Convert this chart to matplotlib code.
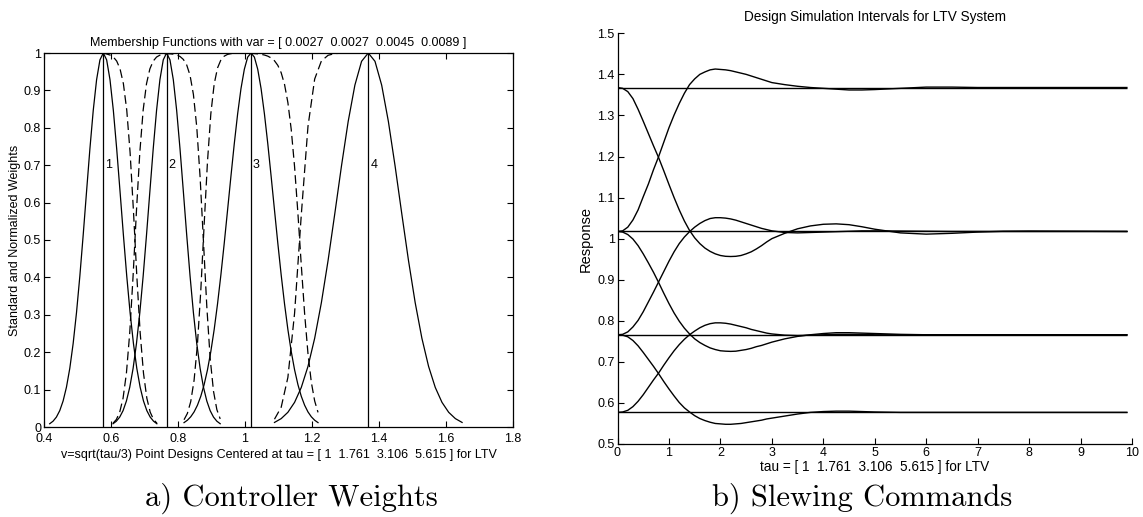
import numpy as np
import matplotlib.pyplot as plt
from matplotlib.ticker import FixedLocator, FixedFormatter

plt.rcParams['font.family'] = ['Liberation Sans', 'DejaVu Sans']

# ---------------- a) controller weights ----------------
v_centers = [0.577, 0.766, 1.018, 1.368]
v_names = ['1', '2', '3', '4']

# sample positions of each membership curve
v1 = np.linspace(0.417, 0.737, 33)
v2 = np.linspace(0.606, 0.926, 33)
v3 = np.linspace(0.818, 1.218, 41)
v4 = np.linspace(1.088, 1.648, 29)

# standard weights (solid)
w1 = [0.0087, 0.0155, 0.0265, 0.0437, 0.0695, 0.1064, 0.1569, 0.2231, 0.3057, 0.4036, 0.5134,
      0.6294, 0.7436, 0.8465, 0.9286, 0.9817, 1.0, 0.9817, 0.9286, 0.8465, 0.7436, 0.6294,
      0.5134, 0.4036, 0.3057, 0.2231, 0.1569, 0.1064, 0.0695, 0.0437, 0.0265, 0.0155, 0.0087]
w2 = [0.0087, 0.0155, 0.0265, 0.0437, 0.0695, 0.1064, 0.1569, 0.2231, 0.3057, 0.4036, 0.5134,
      0.6294, 0.7436, 0.8465, 0.9286, 0.9817, 1.0, 0.9817, 0.9286, 0.8465, 0.7436, 0.6294,
      0.5134, 0.4036, 0.3057, 0.2231, 0.1569, 0.1064, 0.0695, 0.0437, 0.0265, 0.0155, 0.0087]
w3 = [0.0117, 0.0181, 0.0273, 0.0403, 0.0582, 0.0821, 0.1133, 0.1529, 0.2019, 0.2607, 0.3292,
      0.4066, 0.4911, 0.5802, 0.6703, 0.7575, 0.8371, 0.9048, 0.9565, 0.9890, 1.0,
      0.9890, 0.9565, 0.9048, 0.8371, 0.7575, 0.6703, 0.5802, 0.4911, 0.4066, 0.3292,
      0.2607, 0.2019, 0.1529, 0.1133, 0.0821, 0.0582, 0.0403, 0.0273, 0.0181, 0.0117]
w4 = [0.0122, 0.0224, 0.0393, 0.0659, 0.1057, 0.1620, 0.2374, 0.3325, 0.4453, 0.5702, 0.6980,
      0.8169, 0.9140, 0.9778, 1.0, 0.9778, 0.9140, 0.8169, 0.6980, 0.5702, 0.4453, 0.3325,
      0.2374, 0.1620, 0.1057, 0.0659, 0.0393, 0.0224, 0.0122]

# normalized weights (dashed)
n1 = [1.0, 1.0, 1.0, 1.0, 1.0, 1.0, 1.0, 1.0, 1.0, 1.0, 1.0, 1.0, 1.0, 1.0, 1.0, 1.0, 1.0,
      0.9973, 0.9946, 0.9892, 0.9784, 0.9575, 0.9179, 0.8474, 0.7339, 0.5781, 0.4049,
      0.2526, 0.1437, 0.0769, 0.0397, 0.0201, 0.0101]
n2 = [0.0101, 0.0201, 0.0397, 0.0769, 0.1437, 0.2526, 0.4049, 0.5781, 0.7339, 0.8474, 0.9179,
      0.9575, 0.9784, 0.9892, 0.9943, 0.9970, 0.9978, 0.9978, 0.9969, 0.9948, 0.9907, 0.9828,
      0.9680, 0.9401, 0.8892, 0.8019, 0.6677, 0.4960, 0.3219, 0.1840, 0.0955, 0.0464, 0.0216]
n3 = [0.0194, 0.0363, 0.0679, 0.1249, 0.2210, 0.3644, 0.5402, 0.7095, 0.8375, 0.9170, 0.9600,
      0.9815, 0.9916, 0.9963, 0.9983, 0.9992, 0.9995, 0.9995, 0.9995, 0.9993, 0.9990, 0.9985,
      0.9977, 0.9965, 0.9946, 0.9916, 0.9868, 0.9792, 0.9669, 0.9472, 0.9160, 0.8675, 0.7955,
      0.6957, 0.5705, 0.4331, 0.3028, 0.1962, 0.1195, 0.0695, 0.0391]
n4 = [0.0208, 0.0528, 0.1325, 0.3043, 0.5669, 0.8038, 0.9305, 0.9786, 0.9939, 0.9984, 0.9996,
      1.0, 1.0, 1.0, 1.0, 1.0, 1.0, 1.0, 1.0, 1.0, 1.0, 1.0, 1.0, 1.0, 1.0, 1.0, 1.0, 1.0, 1.0]

a_xticks = [0.4, 0.6, 0.8, 1.0, 1.2, 1.4, 1.6, 1.8]
a_xlabels = ['0.4', '0.6', '0.8', '1', '1.2', '1.4', '1.6', '1.8']
a_yticks = [0, 0.1, 0.2, 0.3, 0.4, 0.5, 0.6, 0.7, 0.8, 0.9, 1.0]
a_ylabels = ['0', '0.1', '0.2', '0.3', '0.4', '0.5', '0.6', '0.7', '0.8', '0.9', '1']

# ---------------- b) slewing commands ----------------
levels = [0.577, 0.766, 1.0175, 1.368]
t_sim = [0.0, 0.1, 0.2, 0.3, 0.4, 0.5, 0.6, 0.7, 0.8, 0.9, 1.0, 1.1, 1.2, 1.3, 1.4, 1.5, 1.6,
         1.7, 1.8, 1.9, 2.0, 2.1, 2.2, 2.3, 2.4, 2.5, 2.6, 2.7, 2.8, 2.9, 3.0, 3.25, 3.5,
         3.75, 4.0, 4.25, 4.5, 4.75, 5.0, 5.5, 6.0, 6.5, 7.0, 7.5, 8.0, 9.0, 9.9]
# 1.368 -> 1.0175
resp_a = [1.368, 1.366, 1.358, 1.341, 1.315, 1.286, 1.256, 1.226, 1.197, 1.165, 1.132, 1.100,
          1.070, 1.043, 1.020, 1.002, 0.988, 0.977, 0.969, 0.963, 0.959, 0.957, 0.9565, 0.957,
          0.959, 0.963, 0.968, 0.975, 0.983, 0.992, 1.000, 1.013, 1.024, 1.031, 1.035, 1.036,
          1.034, 1.029, 1.023, 1.014, 1.011, 1.013, 1.016, 1.018, 1.0185, 1.018, 1.0175]
# 1.0175 -> 1.368
resp_b = [1.0175, 1.019, 1.028, 1.0455, 1.070, 1.102, 1.133, 1.168, 1.200, 1.235, 1.270, 1.301,
          1.329, 1.354, 1.375, 1.389, 1.400, 1.406, 1.411, 1.413, 1.412, 1.411, 1.409, 1.406,
          1.403, 1.400, 1.396, 1.392, 1.388, 1.384, 1.380, 1.375, 1.371, 1.368, 1.366, 1.364,
          1.362, 1.362, 1.363, 1.366, 1.369, 1.369, 1.368, 1.368, 1.368, 1.368, 1.368]
# 0.766 -> 1.0175
resp_c = [0.766, 0.767, 0.773, 0.785, 0.801, 0.822, 0.846, 0.870, 0.895, 0.920, 0.945, 0.968,
          0.988, 1.004, 1.017, 1.028, 1.037, 1.044, 1.049, 1.051, 1.051, 1.050, 1.048, 1.045,
          1.041, 1.037, 1.033, 1.029, 1.025, 1.022, 1.019, 1.015, 1.014, 1.015, 1.016, 1.017,
          1.018, 1.019, 1.019, 1.0185, 1.018, 1.0175, 1.0175, 1.0175, 1.0175, 1.0175, 1.0175]
# 1.0175 -> 0.766
resp_d = [1.0175, 1.016, 1.010, 0.999, 0.983, 0.963, 0.941, 0.918, 0.893, 0.867, 0.842, 0.819,
          0.799, 0.782, 0.768, 0.756, 0.747, 0.740, 0.734, 0.730, 0.727, 0.726, 0.7255, 0.726,
          0.728, 0.730, 0.733, 0.737, 0.740, 0.744, 0.748, 0.756, 0.762, 0.766, 0.769, 0.771,
          0.771, 0.770, 0.769, 0.767, 0.766, 0.766, 0.766, 0.766, 0.766, 0.766, 0.766]
# 0.577 -> 0.766
resp_e = [0.577, 0.578, 0.582, 0.591, 0.604, 0.620, 0.638, 0.656, 0.673, 0.692, 0.710, 0.727,
          0.742, 0.755, 0.766, 0.775, 0.783, 0.789, 0.793, 0.795, 0.795, 0.794, 0.792, 0.789,
          0.786, 0.783, 0.779, 0.776, 0.773, 0.770, 0.768, 0.765, 0.764, 0.765, 0.766, 0.767,
          0.767, 0.767, 0.766, 0.766, 0.766, 0.766, 0.766, 0.766, 0.766, 0.766, 0.766]
# 0.766 -> 0.577
resp_f = [0.766, 0.765, 0.761, 0.752, 0.739, 0.723, 0.706, 0.689, 0.671, 0.652, 0.634, 0.617,
          0.601, 0.588, 0.578, 0.569, 0.562, 0.557, 0.553, 0.550, 0.549, 0.548, 0.548, 0.549,
          0.550, 0.552, 0.554, 0.556, 0.558, 0.561, 0.563, 0.568, 0.573, 0.577, 0.579, 0.580,
          0.580, 0.579, 0.578, 0.577, 0.577, 0.577, 0.577, 0.577, 0.577, 0.577, 0.577]

b_xticks = [0, 1, 2, 3, 4, 5, 6, 7, 8, 9, 10]
b_xlabels = ['0', '1', '2', '3', '4', '5', '6', '7', '8', '9', '10']
b_yticks = [0.5, 0.6, 0.7, 0.8, 0.9, 1.0, 1.1, 1.2, 1.3, 1.4, 1.5]
b_ylabels = ['0.5', '0.6', '0.7', '0.8', '0.9', '1', '1.1', '1.2', '1.3', '1.4', '1.5']

fs = 9

fig = plt.figure(figsize=(11.43, 5.17), dpi=100)

# left panel
ax1 = fig.add_axes([44 / 1143, 1 - 427 / 517, 469 / 1143, 374 / 517])
for v, w in [(v1, w1), (v2, w2), (v3, w3), (v4, w4)]:
    ax1.plot(v, w, color='black', linewidth=0.9)
for v, n in [(v1, n1), (v2, n2), (v3, n3), (v4, n4)]:
    ax1.plot(v, n, color='black', linewidth=0.9, dashes=(7, 3.5))
ax1.vlines(v_centers, 0, 1, color='black', linewidth=0.9)
for c, s in zip(v_centers, v_names):
    ax1.text(c + 0.006, 0.7, s, fontsize=fs, va='center', ha='left')
ax1.set_xlim(0.4, 1.8)
ax1.set_ylim(0, 1)
ax1.xaxis.set_major_locator(FixedLocator(a_xticks))
ax1.xaxis.set_major_formatter(FixedFormatter(a_xlabels))
ax1.yaxis.set_major_locator(FixedLocator(a_yticks))
ax1.yaxis.set_major_formatter(FixedFormatter(a_ylabels))
ax1.tick_params(direction='in', top=True, right=True, length=4, width=0.8, labelsize=fs)
ax1.tick_params(axis='x', pad=4)
ax1.tick_params(axis='y', pad=2)
for sp in ax1.spines.values():
    sp.set_linewidth(0.9)
ax1.set_title('Membership Functions with var = [ 0.0027  0.0027  0.0045  0.0089 ]',
              fontsize=fs, pad=5)
ax1.set_xlabel('v=sqrt(tau/3) Point Designs Centered at tau = [ 1  1.761  3.106  5.615 ] for LTV',
               fontsize=fs, labelpad=3)
ax1.set_ylabel('Standard and Normalized Weights', fontsize=fs, labelpad=2)

# right panel
ax2 = fig.add_axes([617.5 / 1143, 1 - 444 / 517, 514.5 / 1143, 410.7 / 517])
ax2.hlines(levels, t_sim[0], t_sim[-1], color='black', linewidth=1.0)
for r in [resp_a, resp_b, resp_c, resp_d, resp_e, resp_f]:
    ax2.plot(t_sim, r, color='black', linewidth=1.0)
ax2.set_xlim(0, 10)
ax2.set_ylim(0.5, 1.5)
ax2.xaxis.set_major_locator(FixedLocator(b_xticks))
ax2.xaxis.set_major_formatter(FixedFormatter(b_xlabels))
ax2.yaxis.set_major_locator(FixedLocator(b_yticks))
ax2.yaxis.set_major_formatter(FixedFormatter(b_ylabels))
ax2.tick_params(direction='in', length=4, width=0.8, labelsize=fs, pad=2)
ax2.spines['top'].set_visible(False)
ax2.spines['right'].set_visible(False)
ax2.spines['left'].set_linewidth(0.9)
ax2.spines['bottom'].set_linewidth(0.9)
ax2.set_title('Design Simulation Intervals for LTV System', fontsize=9.8, pad=9)
ax2.set_xlabel('tau = [ 1  1.761  3.106  5.615 ] for LTV', fontsize=9.8, labelpad=1)
ax2.set_ylabel('Response', fontsize=10.5, labelpad=3)

# captions
fig.text(291 / 1143, 1 - 506 / 517, 'a) Controller Weights', family='cmr10',
         fontsize=22, ha='center', va='baseline')
fig.text(862 / 1143, 1 - 506 / 517, 'b) Slewing Commands', family='cmr10',
         fontsize=22, ha='center', va='baseline')

fig.savefig('out.png', dpi=100)
